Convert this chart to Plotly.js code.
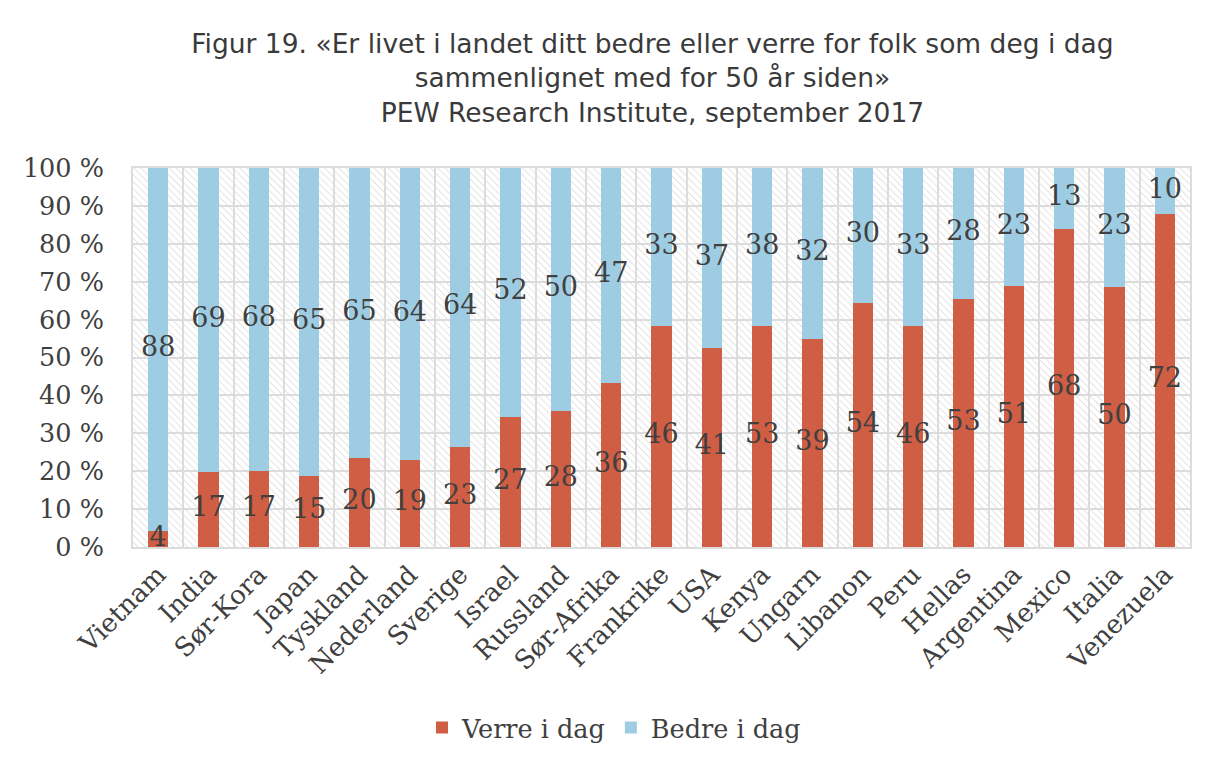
<!DOCTYPE html>
<html>
<head>
<meta charset="utf-8">
<script src="https://cdn.plot.ly/plotly-3.0.1.min.js"></script>
<style>
  html, body { margin: 0; padding: 0; background: #ffffff; }
  #chart { width: 1206px; height: 760px; }
</style>
</head>
<body>
<div id="chart"></div>
<script>
// ---- Data ----
const countries = ["Vietnam", "India", "Sør-Kora", "Japan", "Tyskland", "Nederland", "Sverige",
  "Israel", "Russland", "Sør-Afrika", "Frankrike", "USA", "Kenya", "Ungarn", "Libanon",
  "Peru", "Hellas", "Argentina", "Mexico", "Italia", "Venezuela"];
const verre = [4, 17, 17, 15, 20, 19, 23, 27, 28, 36, 46, 41, 53, 39, 54, 46, 53, 51, 68, 50, 72];
const bedre = [88, 69, 68, 65, 65, 64, 64, 52, 50, 47, 33, 37, 38, 32, 30, 33, 28, 23, 13, 23, 10];
const seriesNames = ["Verre i dag", "Bedre i dag"];
const yTickVals = [0, 10, 20, 30, 40, 50, 60, 70, 80, 90, 100];
const yTickText = yTickVals.map(v => v + " %");

// ---- Derived (100 % stacked) label positions ----
const verrePct = verre.map((v, i) => 100 * v / (v + bedre[i]));
const verreMid = verrePct.map(p => p / 2);
const bedreMid = verrePct.map(p => (p + 100) / 2);

// ---- Style ----
const txtColor = "#404040";
const serif = "DejaVu Serif, Georgia, serif";
const gridCol = "#dcdcdc";

const hatchSvg = "<svg xmlns='http://www.w3.org/2000/svg' width='1057' height='379'>" +
  "<defs><pattern id='p' width='5' height='5' patternUnits='userSpaceOnUse' patternTransform='rotate(-45)'>" +
  "<line x1='0' y1='0' x2='0' y2='5' stroke='#d2d2d2' stroke-width='1.2'/></pattern></defs>" +
  "<rect width='100%' height='100%' fill='#ffffff'/><rect width='100%' height='100%' fill='url(#p)'/></svg>";
const hatchUri = "data:image/svg+xml;charset=utf-8," + encodeURIComponent(hatchSvg);

const traces = [
  {
    type: "bar", name: seriesNames[0], x: countries, y: verre,
    marker: { color: "#CF5E44" }, hoverinfo: "x+y+name"
  },
  {
    type: "bar", name: seriesNames[1], x: countries, y: bedre,
    marker: { color: "#9ECDE3" }, hoverinfo: "x+y+name"
  },
  {
    type: "scatter", mode: "text", x: countries, y: verreMid, text: verre.map(String),
    textposition: "middle center", cliponaxis: false, showlegend: false, hoverinfo: "skip",
    textfont: { family: serif, size: 27, color: txtColor }
  },
  {
    type: "scatter", mode: "text", x: countries, y: bedreMid, text: bedre.map(String),
    textposition: "middle center", cliponaxis: false, showlegend: false, hoverinfo: "skip",
    textfont: { family: serif, size: 27, color: txtColor }
  }
];

const layout = {
  width: 1206,
  height: 760,
  paper_bgcolor: "#ffffff",
  plot_bgcolor: "rgba(0,0,0,0)",
  margin: { l: 133, r: 16, t: 168, b: 213 },
  barmode: "stack",
  barnorm: "percent",
  bargap: 0.6,
  title: {
    text: "Figur 19. «Er livet i landet ditt bedre eller verre for folk som deg i dag<br>sammenlignet med for 50 år siden»<br>PEW Research Institute, september 2017",
    font: { family: "DejaVu Sans, sans-serif", size: 26.5, color: "#3a3a3a" },
    x: 0.541,
    xanchor: "center",
    xref: "container",
    y: 1 - 53 / 760,
    yanchor: "top",
    yref: "container"
  },
  xaxis: {
    type: "category",
    range: [-0.5, countries.length - 0.5],
    tickangle: -45,
    tickson: "boundaries",
    showgrid: true,
    gridcolor: gridCol,
    gridwidth: 2,
    showline: true,
    linecolor: gridCol,
    linewidth: 2,
    mirror: true,
    ticks: "",
    tickfont: { family: serif, size: 26, color: txtColor },
    zeroline: false
  },
  yaxis: {
    range: [0, 100],
    tickvals: yTickVals,
    ticktext: yTickText,
    showgrid: true,
    gridcolor: gridCol,
    gridwidth: 2,
    showline: true,
    linecolor: gridCol,
    linewidth: 2,
    mirror: true,
    zeroline: false,
    ticks: "",
    ticklabelstandoff: 22,
    tickfont: { family: serif, size: 25.5, color: txtColor }
  },
  legend: {
    orientation: "h",
    x: 614 / 1206,
    xanchor: "center",
    xref: "container",
    y: 1 - 728 / 760,
    yref: "container",
    yanchor: "middle",
    font: { family: serif, size: 25.5, color: txtColor },
    traceorder: "normal",
    itemwidth: 30
  },
  showlegend: true,
  images: [{
    source: hatchUri,
    xref: "paper",
    yref: "paper",
    x: 0,
    y: 1,
    sizex: 1,
    sizey: 1,
    xanchor: "left",
    yanchor: "top",
    sizing: "stretch",
    layer: "below"
  }]
};

Plotly.newPlot("chart", traces, layout, { displayModeBar: false, staticPlot: true });
</script>
</body>
</html>
